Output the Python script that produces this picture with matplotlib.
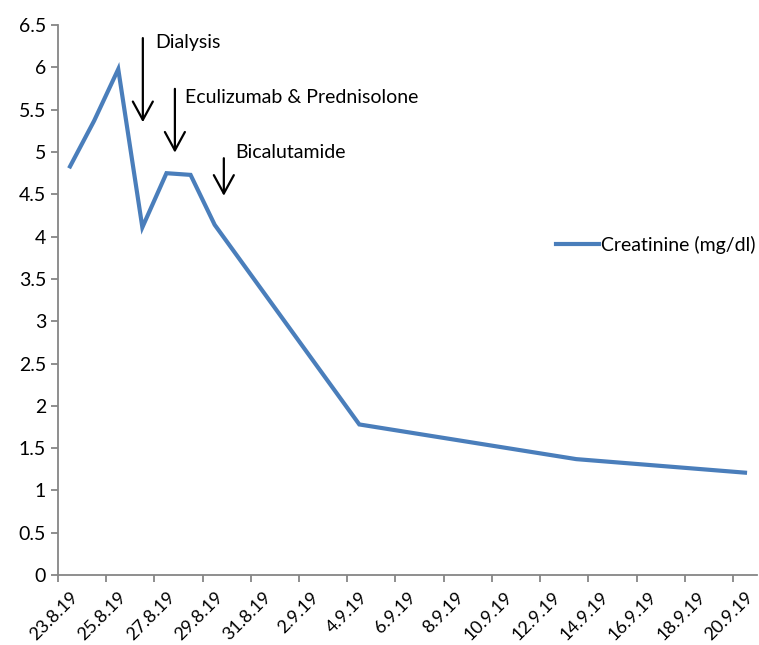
"""
Creatinine time course with treatment annotations.
"""

import matplotlib
matplotlib.use("Agg")
import matplotlib.pyplot as plt
import matplotlib.dates as mdates
import matplotlib.transforms as mtransforms
from matplotlib.ticker import FuncFormatter
import pandas as pd

dates = ["2019-08-23", "2019-08-24", "2019-08-25", "2019-08-26", "2019-08-27",
         "2019-08-28", "2019-08-29", "2019-09-04", "2019-09-13", "2019-09-20"]
creatinine = [4.83, 5.37, 5.98, 4.11, 4.75, 4.73, 4.14, 1.78, 1.37, 1.21]

# (label, arrow x in days from start, arrow top, arrow tip, text x, text y)
events = [
    ("Dialysis", 3.52, 6.38, 5.32, 4.02, 6.29),
    ("Eculizumab & Prednisolone", 4.85, 5.78, 4.96, 5.26, 5.64),
    ("Bicalutamide", 6.88, 4.96, 4.45, 7.37, 4.99),
]

start = pd.Timestamp("2019-08-23")
end = pd.Timestamp("2019-09-21")
x = pd.to_datetime(dates) + pd.Timedelta(hours=12)

plt.rcParams["font.family"] = ["Lato", "DejaVu Sans"]
grey = "#868686"

fig = plt.figure(figsize=(7.59, 6.45), dpi=100)
ax = fig.add_axes([0.0764, 0.1085, 0.921, 0.8525])

ax.plot(x, creatinine, color="#4A7EBB", linewidth=3.0,
        solid_joinstyle="miter", label="Creatinine (mg/dl)")

t0 = mdates.date2num(start)
for label, ax_x, y_top, y_tip, tx, ty in events:
    ax.annotate("", xy=(t0 + ax_x, y_tip), xytext=(t0 + ax_x, y_top),
                arrowprops=dict(arrowstyle="->,head_length=0.55,head_width=0.3",
                                color="black", lw=1.6, mutation_scale=24))
    ax.text(t0 + tx, ty, label, fontsize=14, va="center", ha="left")

ax.set_xlim(start, end)
ax.set_ylim(0, 6.5)
ax.set_yticks([i * 0.5 for i in range(14)])
ax.yaxis.set_major_formatter(FuncFormatter(lambda v, _: f"{v:g}"))

for side in ("top", "right"):
    ax.spines[side].set_visible(False)
for side in ("left", "bottom"):
    ax.spines[side].set_color(grey)
    ax.spines[side].set_linewidth(1.3)
ax.tick_params(axis="both", colors=grey, labelcolor="black", length=5, width=1.3)
ax.tick_params(axis="y", labelsize=14)

ticks = pd.date_range(start, pd.Timestamp("2019-09-20"), freq="2D")
ax.set_xticks(ticks)
ax.set_xticklabels([f"{d.day}.{d.month}.{d.year % 100}" for d in ticks],
                   rotation=45, ha="right", rotation_mode="anchor", fontsize=13)
# Excel puts the rotated labels a bit right of the tick
shift = mtransforms.ScaledTranslation(0.12, -0.02, fig.dpi_scale_trans)
for lbl in ax.get_xticklabels():
    lbl.set_transform(lbl.get_transform() + shift)

ax.legend(loc="center left", bbox_to_anchor=(0.702, 0.6), frameon=False,
          handlelength=2.2, handletextpad=0.1, borderaxespad=0.0,
          fontsize=14)

fig.savefig("out.png", dpi=100)
